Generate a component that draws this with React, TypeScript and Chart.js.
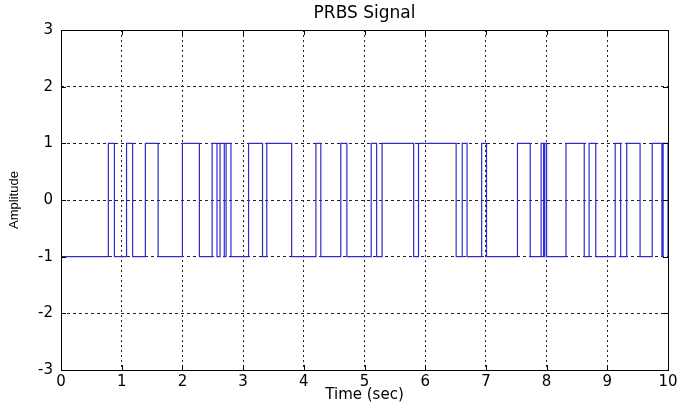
import React, { useEffect, useRef } from "react";
import { Chart, registerables } from "chart.js";

Chart.register(...registerables);

// Switching instants of the PRBS signal (sec) and the level held from each instant on
const switchTimes = [
  0, 0.78, 0.88, 1.08, 1.18, 1.39, 1.6, 2.0, 2.28, 2.49, 2.57, 2.62, 2.69, 2.72, 2.8,
  3.09, 3.32, 3.39, 3.8, 4.2, 4.28, 4.61, 4.71, 5.11, 5.2, 5.29, 5.81, 5.89, 6.51,
  6.61, 6.69, 6.93, 7.01, 7.52, 7.73, 7.91, 7.95, 7.97, 8.0, 8.32, 8.62, 8.7, 8.81,
  9.13, 9.22, 9.32, 9.54, 9.74, 9.9, 9.92, 10.0,
];
const switchLevels = [
  -1, 1, -1, 1, -1, 1, -1, 1, -1, 1, -1, 1, -1, 1, -1,
  1, -1, 1, -1, 1, -1, 1, -1, 1, -1, 1, -1, 1, -1,
  1, -1, 1, -1, 1, -1, 1, -1, 1, -1, 1, -1, 1, -1,
  1, -1, 1, -1, 1, -1, 1, -1,
];
const xTicks = [0, 1, 2, 3, 4, 5, 6, 7, 8, 9, 10];
const yTicks = [-3, -2, -1, 0, 1, 2, 3];

const chartTitle = "PRBS Signal";
const xTitle = "Time (sec)";
const yTitle = "Amplitude";

const WIDE = "'DejaVu Sans', Verdana, sans-serif";
const NARROW = "'Liberation Sans', Arial, Helvetica, sans-serif";

const boxPlugin = {
  id: "matlabBox",
  afterDraw(chart: any) {
    const { ctx, chartArea } = chart;
    const { left, right, top, bottom } = chartArea;
    const xs = chart.scales.x;
    const ys = chart.scales.y;
    ctx.save();
    ctx.strokeStyle = "#000";
    ctx.lineWidth = 1;
    ctx.setLineDash([]);
    ctx.beginPath();
    for (const v of xTicks) {
      const px = Math.round(xs.getPixelForValue(v)) + 0.5;
      ctx.moveTo(px, bottom);
      ctx.lineTo(px, bottom - 5);
      ctx.moveTo(px, top);
      ctx.lineTo(px, top + 5);
    }
    for (const v of yTicks) {
      const py = Math.round(ys.getPixelForValue(v)) + 0.5;
      ctx.moveTo(left, py);
      ctx.lineTo(left + 5, py);
      ctx.moveTo(right, py);
      ctx.lineTo(right - 5, py);
    }
    ctx.stroke();
    ctx.strokeRect(Math.round(left) + 0.5, Math.round(top) + 0.5, Math.round(right - left), Math.round(bottom - top));
    ctx.restore();
  },
};

const bgPlugin = {
  id: "bg",
  beforeDraw(chart: any) {
    const { ctx, width, height } = chart;
    ctx.save();
    ctx.fillStyle = "#fff";
    ctx.fillRect(0, 0, width, height);
    ctx.restore();
  },
};

export default function App() {
  const ref = useRef<HTMLCanvasElement | null>(null);

  useEffect(() => {
    document.body.style.margin = "0";
    const points = switchTimes.map((t, i) => ({ x: t, y: switchLevels[i] }));
    const chart = new Chart(ref.current as HTMLCanvasElement, {
      type: "line",
      data: {
        datasets: [
          {
            data: points,
            borderColor: "rgb(45,45,205)",
            borderWidth: 1.2,
            pointRadius: 0,
            stepped: "before",
            fill: false,
          },
        ],
      },
      options: {
        responsive: false,
        animation: false,
        layout: { padding: { left: 0, right: 0, top: 0, bottom: 0 } },
        plugins: {
          legend: { display: false },
          tooltip: { enabled: false },
          title: {
            display: true,
            fullSize: false,
            text: chartTitle,
            color: "#000",
            font: { family: WIDE, size: 17, weight: "normal" },
            padding: { top: 3, bottom: 6.6 },
          },
        },
        scales: {
          x: {
            type: "linear",
            min: 0,
            max: 10,
            afterBuildTicks(scale: any) {
              scale.ticks = xTicks.map((v) => ({ value: v }));
            },
            afterFit(scale: any) {
              scale.height = 36;
              scale.paddingRight = 9;
              scale.paddingLeft = 0;
            },
            ticks: {
              color: "#000",
              font: { family: WIDE, size: 15 },
              padding: 3,
              maxRotation: 0,
              autoSkip: false,
            },
            grid: { color: "#222", lineWidth: 1, drawTicks: false },
            border: { display: false, dash: [2, 3] },
            title: {
              display: true,
              text: xTitle,
              color: "#000",
              font: { family: WIDE, size: 15 },
              padding: { top: 0, bottom: 2 },
            },
          },
          y: {
            type: "linear",
            min: -3,
            max: 3,
            afterBuildTicks(scale: any) {
              scale.ticks = yTicks.map((v) => ({ value: v }));
            },
            afterFit(scale: any) {
              scale.width = 61;
            },
            ticks: {
              color: "#000",
              font: { family: WIDE, size: 15 },
              padding: 8,
              autoSkip: false,
            },
            grid: { color: "#222", lineWidth: 1, drawTicks: false },
            border: { display: false, dash: [3, 3] },
            title: {
              display: true,
              text: yTitle,
              color: "#000",
              font: { family: NARROW, size: 13 },
              padding: { top: 7, bottom: 0 },
            },
          },
        },
      },
      plugins: [bgPlugin, boxPlugin],
    });
    return () => chart.destroy();
  }, []);

  return (
    <div style={{ position: "absolute", left: 0, top: 0, width: 677, height: 406 }}>
      <canvas ref={ref} width={677} height={406} />
    </div>
  );
}
